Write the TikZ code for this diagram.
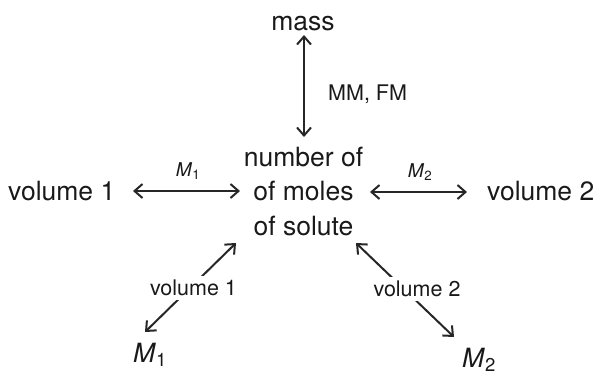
\documentclass[tikz,border=0pt]{standalone}
\usepackage{fontspec}
\setmainfont{TeX Gyre Heros}
\usetikzlibrary{arrows.meta}
\begin{document}
\begin{tikzpicture}[x=1pt,y=-1pt,
  big/.style={font=\fontsize{26.5}{34.5}\selectfont, inner sep=0pt, text=black!90},
  lbl/.style={font=\fontsize{21.5}{26}\selectfont, inner sep=0pt, text=black!90},
  sml/.style={font=\fontsize{19}{22}\selectfont, inner sep=0pt, text=black!90},
  gap/.style={lbl, fill=white, inner sep=4pt},
  dbl/.style={{Straight Barb[length=8pt,width=14pt]}-{Straight Barb[length=8pt,width=14pt]}, line width=2pt, draw=black!85}]
\useasboundingbox (0,0) rectangle (600,373);
% nodes
\node[big, anchor=base] (mass) at (303,30) {mass};
\node[big, anchor=base west] (vol1) at (8,200) {volume 1};
\node[big, anchor=base west] (vol2) at (487,200) {volume 2};
\node[big, align=center] (num) at (303.5,191) {number of\\of moles\\of solute};
\node[big, anchor=base west] (m1) at (133,362) {\textit{M}\textsubscript{1}};
\node[big, anchor=base west] (m2) at (462,367) {\textit{M}\textsubscript{2}};
% arrow ends
\coordinate (massS) at (304,35);
\coordinate (numN) at (304,137);
\coordinate (vol1E) at (133,191);
\coordinate (numW) at (240,191);
\coordinate (numE) at (370,192);
\coordinate (vol2W) at (467,192);
\coordinate (m1NE) at (145,332);
\coordinate (numSW) at (236,243);
\coordinate (numSE) at (356,243);
\coordinate (m2NW) at (454,337);
% connectors
\draw[dbl] (massS) -- (numN);
\draw[dbl] (vol1E) -- (numW);
\draw[dbl] (numE) -- (vol2W);
\draw[dbl] (m1NE) -- (numSW);
\draw[dbl] (numSE) -- (m2NW);
% labels
\node[lbl, anchor=base west] (mmfm) at (328,100) {MM, FM};
\node[sml, anchor=base] (lm1) at (188,176) {\textit{M}\textsubscript{1}};
\node[sml, anchor=base] (lm2) at (420,177) {\textit{M}\textsubscript{2}};
\node[gap] (lv1) at (193.5,288) {volume 1};
\node[gap] (lv2) at (417,289) {volume 2};
\end{tikzpicture}
\end{document}
